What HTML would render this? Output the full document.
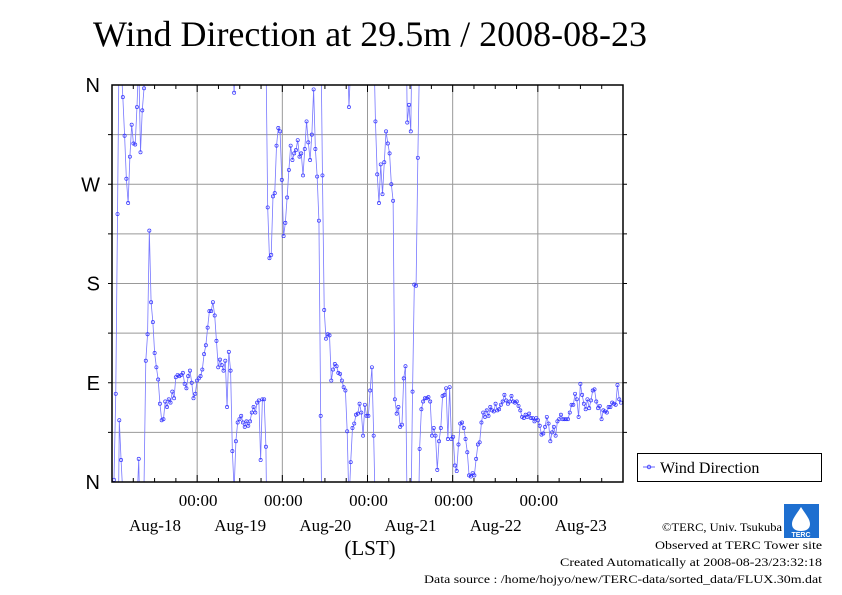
<!DOCTYPE html>
<html><head><meta charset="utf-8">
<style>
body{margin:0;background:#fff;}
svg{display:block;font-family:"Liberation Serif",serif;}
</style></head>
<body>
<svg id="chart" width="842" height="595" viewBox="0 0 842 595" xmlns="http://www.w3.org/2000/svg">
<rect width="842" height="595" fill="#fff"/>
<text x="93" y="46" font-size="36" textLength="554" lengthAdjust="spacingAndGlyphs" fill="#000">Wind Direction at 29.5m / 2008-08-23</text>
<defs><clipPath id="plotclip"><rect x="112" y="85" width="511" height="397"/></clipPath></defs>
<g id="grid"></g>
<g id="series" clip-path="url(#plotclip)"></g>
<g id="axes"></g>
<text x="370" y="555" font-size="21" text-anchor="middle">(LST)</text>
<g>
<rect x="637.5" y="453.5" width="184" height="28" fill="#fff" stroke="#000" stroke-width="1"/>
<line x1="643" y1="467" x2="655" y2="467" stroke="#6666ff" stroke-width="1"/>
<circle cx="649" cy="467" r="1.8" fill="none" stroke="#3333ff" stroke-width="0.8"/>
<text x="660" y="473" font-size="16">Wind Direction</text>
</g>
<g>
<rect x="784" y="504" width="35" height="34" fill="#1e6fd0"/>
<path d="M801 507 C796 515 792 519 792 524 C792 529 796 531 801 531 C806 531 810 529 810 524 C810 519 806 515 801 507Z" fill="#fff"/>
<text x="801" y="537" font-size="7" fill="#fff" text-anchor="middle" font-family="Liberation Sans,sans-serif" font-weight="bold">TERC</text>
</g>
<g font-size="12">
<text x="662" y="531" textLength="120" lengthAdjust="spacingAndGlyphs">©TERC, Univ. Tsukuba</text>
<text x="655" y="549" textLength="167" lengthAdjust="spacingAndGlyphs">Observed at TERC Tower site</text>
<text x="560" y="566" textLength="262" lengthAdjust="spacingAndGlyphs">Created Automatically at 2008-08-23/23:32:18</text>
<text x="424" y="583" textLength="398" lengthAdjust="spacingAndGlyphs">Data source : /home/hojyo/new/TERC-data/sorted_data/FLUX.30m.dat</text>
</g>
</svg>
<script>
const directions = [2,80,243,56,20,349,314,275,253,295,324,307,306,340,21,299,337,357,110,134,228,163,145,117,104,93,71,56,57,73,68,75,72,82,76,95,97,96,97,99,89,85,96,101,90,76,80,92,94,96,102,116,124,140,155,155,163,151,128,104,111,106,101,110,68,118,101,28,353,37,54,57,60,54,50,55,51,55,63,68,63,72,74,20,75,75,32,249,203,206,259,262,305,321,
318,274,223,235,258,283,305,292,298,301,310,295,298,278,302,327,308,292,315,356,302,277,237,60,278,156,130,134,133,92,102,107,105,99,98,92,86,83,46,340,18,49,53,61,62,71,63,42,70,60,60,83,104,42,327,279,253,288,261,290,318,307,298,270,255,75,62,68,50,52,94,105,326,342,318,82,179,178,294,30,66,73,76,76,77,73,42,49,42,11,
37,49,78,79,85,39,86,39,41,15,10,34,53,54,49,39,27,6,5,8,6,21,34,36,54,63,59,65,60,68,65,64,71,65,66,70,73,79,74,71,73,78,73,72,73,69,65,59,58,61,59,62,58,58,55,58,56,51,43,44,50,59,53,37,45,50,42,55,57,61,57,57,57,57,63,70,70,80,75,59,89,79,71,66,75,67,74,83,84,73,67,69,57,65,64,63,68,68,72,71,70,88,75,72];
const yTickLabels = ["N","E","S","W","N"];
const yTickValues = [0,90,180,270,360];
const xTimeLabels = ["00:00","00:00","00:00","00:00","00:00"];
const xDateLabels = ["Aug-18","Aug-19","Aug-20","Aug-21","Aug-22","Aug-23"];

const NS="http://www.w3.org/2000/svg";
const L=112,R=623,T=85,B=482;
const yScale=v=>B-(v/360)*(B-T);
const xScale=i=>114+(i/(directions.length-1))*(621-114);
const dayX=d=>L+d*(R-L)/6;
function mk(tag,attrs,parent){const e=document.createElementNS(NS,tag);for(const k in attrs)e.setAttribute(k,attrs[k]);parent.appendChild(e);return e;}
const grid=document.getElementById('grid'),axes=document.getElementById('axes'),series=document.getElementById('series');
for(let k=1;k<8;k++){const y=T+k*(B-T)/8;
 const g=mk('line',{x1:L,x2:R,y1:y,y2:y,stroke:'#999','stroke-width':1},grid);
 
 }
for(let d=1;d<6;d++){const x=dayX(d);
 const g=mk('line',{x1:x,x2:x,y1:T,y2:B,stroke:'#999','stroke-width':1},grid);
 
 }
for(let q=1;q<24;q++){const x=L+q*(R-L)/24;const len=(q%4===0)?7:4;
 mk('line',{x1:x,x2:x,y1:T,y2:T+len,stroke:'#000'},axes);
 mk('line',{x1:x,x2:x,y1:B,y2:B-len,stroke:'#000'},axes);}
for(let k=1;k<8;k++){const y=T+k*(B-T)/8;
 mk('line',{x1:L,x2:L-4,y1:y,y2:y,stroke:'#000'},axes);
 mk('line',{x1:R,x2:R+4,y1:y,y2:y,stroke:'#000'},axes);}
mk('rect',{x:L,y:T,width:R-L,height:B-T,fill:'none',stroke:'#000','stroke-width':1.5},axes);
yTickValues.forEach((v,i)=>{
 const t=mk('text',{x:100,y:yScale(v)+7,'font-size':20,'text-anchor':'end','font-family':'Liberation Sans,sans-serif'},axes);
 t.textContent=yTickLabels[i];
 
 });
xTimeLabels.forEach((s,i)=>{
 const t=mk('text',{x:dayX(i+1)+1,y:506,'font-size':17,'text-anchor':'middle'},axes);
 t.textContent=s;
 
 });
xDateLabels.forEach((s,i)=>{
 const t=mk('text',{x:dayX(i)+43,y:531,'font-size':17,'text-anchor':'middle'},axes);
 t.textContent=s;
 
 });
let d='';
for(let i=0;i<directions.length;i++){
 const x=xScale(i),v=directions[i];
 if(i===0){d+='M'+x+' '+yScale(v);continue;}
 const p=directions[i-1],px=xScale(i-1);
 if(Math.abs(v-p)>180){
  const vw=v>p?v-360:v+360, pw=p>v?p-360:p+360;
  d+='L'+x+' '+yScale(vw)+'M'+px+' '+yScale(pw)+'L'+x+' '+yScale(v);
 } else d+='L'+x+' '+yScale(v);
}
const path=mk('path',{d:d,fill:'none',stroke:'#7777ff','stroke-width':0.8},series);


directions.forEach((v,i)=>{
 const c=mk('circle',{cx:xScale(i),cy:yScale(v),r:1.6,fill:'none',stroke:'#3333ff','stroke-width':0.7},series);
 
 });
</script>
</body></html>
